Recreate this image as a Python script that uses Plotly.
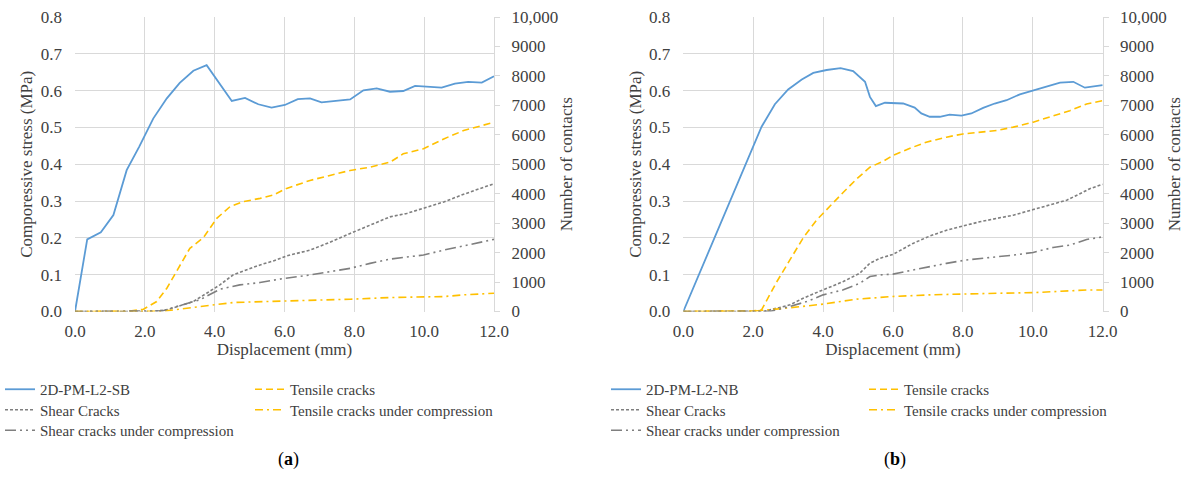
import plotly.graph_objects as go

# ---------------- data ----------------
# Panel (a) 2D-PM-L2-SB
disp_a_stress = [0, 0.35, 0.74, 1.10, 1.48, 1.84, 2.24, 2.63, 3.0, 3.39, 3.77, 4.15, 4.49, 4.87, 5.25, 5.63,
                 6.01, 6.38, 6.73, 7.06, 7.49, 7.88, 8.26, 8.64, 9.02, 9.40, 9.74, 10.12, 10.50, 10.88, 11.26, 11.65, 12.0]
stress_a = [0, 0.196, 0.215, 0.262, 0.384, 0.448, 0.524, 0.579, 0.621, 0.654, 0.669, 0.619, 0.572, 0.580, 0.563, 0.554,
            0.561, 0.577, 0.579, 0.568, 0.572, 0.576, 0.601, 0.606, 0.597, 0.599, 0.613, 0.610, 0.608, 0.619, 0.624, 0.622, 0.639]

disp_a_tens = [0, 1.5, 1.96, 2.34, 2.63, 3.0, 3.29, 3.68, 4.06, 4.44, 4.82, 5.3, 5.68, 6.06, 6.73, 7.3, 7.88,
               8.45, 9.02, 9.40, 9.98, 10.56, 11.13, 12.0]
tensile_a = [0, 0, 79, 339, 791, 1525, 2147, 2509, 3164, 3560, 3729, 3842, 3955, 4181, 4450, 4620, 4790,
             4900, 5070, 5355, 5525, 5860, 6145, 6425]

disp_a_shear = [0, 2.2, 2.63, 3.39, 3.77, 4.15, 4.53, 4.91, 5.3, 5.68, 6.06, 6.73, 7.3, 7.88, 8.45, 9.02, 9.5,
                9.98, 10.56, 11.13, 12.0]
shear_a = [0, 0, 56, 339, 621, 904, 1243, 1412, 1582, 1718, 1887, 2085, 2350, 2650, 2920, 3213, 3330,
           3495, 3720, 3980, 4340]

disp_a_shearc = [0, 2.5, 3.0, 3.58, 4.15, 4.72, 5.3, 5.97, 6.73, 7.88, 8.45, 9.02, 9.98, 10.56, 11.3, 12.0]
shear_comp_a = [0, 20, 200, 400, 757, 904, 983, 1120, 1240, 1466, 1635, 1780, 1917, 2085, 2270, 2450]

disp_a_tensc = [0, 2.5, 3.0, 3.77, 4.53, 5.49, 6.38, 7.3, 7.88, 9.02, 9.98, 10.56, 11.13, 12.0]
tensile_comp_a = [0, 10, 80, 192, 305, 339, 362, 395, 417, 475, 507, 507, 565, 620]

# Panel (b) 2D-PM-L2-NB
disp_b_stress = [0, 1.12, 2.24, 2.62, 3.0, 3.39, 3.72, 4.1, 4.5, 4.86, 5.2, 5.34, 5.51, 5.77, 6.0, 6.29, 6.62,
                 6.81, 7.05, 7.34, 7.62, 7.96, 8.24, 8.58, 8.91, 9.25, 9.63, 10.01, 10.39, 10.78, 11.16, 11.49, 12.0]
stress_b = [0, 0.251, 0.502, 0.563, 0.603, 0.630, 0.648, 0.656, 0.661, 0.653, 0.624, 0.583, 0.558, 0.567, 0.567, 0.565, 0.554,
            0.538, 0.529, 0.529, 0.535, 0.532, 0.538, 0.553, 0.565, 0.574, 0.590, 0.601, 0.612, 0.622, 0.624, 0.608, 0.615]

disp_b_tens = [0, 2.0, 2.24, 2.67, 3.05, 3.43, 3.81, 4.2, 4.58, 4.96, 5.34, 5.72, 6.0, 6.57, 6.95, 7.53, 8.0,
               8.96, 9.44, 10.01, 10.58, 11.06, 11.54, 12.0]
tensile_b = [0, 20, 56, 1000, 1750, 2500, 3100, 3600, 4050, 4500, 4900, 5100, 5300, 5580, 5750, 5920, 6030,
             6145, 6260, 6430, 6650, 6820, 7045, 7160]

disp_b_shear = [0, 2.3, 3.05, 3.43, 4.0, 4.58, 5.05, 5.34, 5.63, 6.0, 6.57, 7.05, 7.53, 8.0, 8.48, 8.96, 9.44,
                10.01, 10.58, 10.97, 11.35, 11.63, 12.0]
shear_b = [0, 0, 226, 452, 735, 1017, 1300, 1639, 1808, 1940, 2310, 2560, 2760, 2900, 3045, 3160, 3270,
           3460, 3660, 3780, 4000, 4170, 4320]

disp_b_shearc = [0, 2.5, 3.05, 3.53, 4.0, 4.58, 5.05, 5.34, 5.63, 6.0, 6.57, 7.15, 7.53, 8.1, 8.96, 9.44, 10.01,
                 10.58, 11.06, 11.54, 12.0]
shear_comp_b = [0, 10, 170, 339, 565, 735, 960, 1187, 1243, 1270, 1410, 1555, 1635, 1750, 1840, 1915, 2005,
                2175, 2255, 2445, 2535]

disp_b_tensc = [0, 2.0, 3.0, 4.0, 4.96, 5.63, 6.0, 7.05, 8.0, 8.96, 10.01, 10.97, 11.54, 12.0]
tensile_comp_b = [0, 10, 120, 250, 420, 475, 510, 565, 600, 620, 640, 700, 730, 730]

x_ticks = [0, 2, 4, 6, 8, 10, 12]
y_left_ticks = [0, 0.1, 0.2, 0.3, 0.4, 0.5, 0.6, 0.7, 0.8]
y_right_ticks = [0, 1000, 2000, 3000, 4000, 5000, 6000, 7000, 8000, 9000, 10000]
y_right_labels = ["0", "1000", "2000", "3000", "4000", "5000", "6000", "7000", "8000", "9000", "10,000"]

# ---------------- styles ----------------
W, H = 1191, 488
FONT = "Liberation Serif"
TXT = "#404040"
GRID = "#D9D9D9"
BLUE = "#5B9BD5"
YEL = "#FFC000"
GRAY = "#7F7F7F"

DASH_TENS = "7px,4px"
DASH_SHEAR = "3px,2px"
DASH_SHEARC = "11px,4px,2px,4px,2px,4px"
DASH_TENSC = "8px,4px,2px,4px"

# legend slots (left px of legend box, row index)
ROWS_Y = [390, 410.5, 431]
LEG_OFFSET = 17

fig = go.Figure()
legends = {}
_counter = [0]


def new_legend(xpx, row):
    _counter[0] += 1
    key = "legend" if _counter[0] == 1 else "legend%d" % _counter[0]
    legends[key] = dict(x=xpx / W, y=1 - (ROWS_Y[row] - LEG_OFFSET) / H, xanchor="left", yanchor="top",
                        orientation="v", font=dict(family=FONT, size=15, color=TXT),
                        bgcolor="rgba(0,0,0,0)", itemwidth=30)
    return key


def add_panel(xa, ya_l, ya_r, col1, col2, stress_name, data):
    (ds, s, dt, t, dsh, sh, dshc, shc, dtc, tc) = data
    fig.add_trace(go.Scatter(x=ds, y=s, mode="lines", name=stress_name, xaxis=xa, yaxis=ya_l,
                             line=dict(color=BLUE, width=1.8), legend=new_legend(col1, 0)))
    fig.add_trace(go.Scatter(x=dt, y=t, mode="lines", name="Tensile cracks", xaxis=xa, yaxis=ya_r,
                             line=dict(color=YEL, width=1.6, dash=DASH_TENS), legend=new_legend(col2, 0)))
    fig.add_trace(go.Scatter(x=dsh, y=sh, mode="lines", name="Shear Cracks", xaxis=xa, yaxis=ya_r,
                             line=dict(color=GRAY, width=1.6, dash=DASH_SHEAR), legend=new_legend(col1, 1)))
    fig.add_trace(go.Scatter(x=dtc, y=tc, mode="lines", name="Tensile cracks under compression", xaxis=xa, yaxis=ya_r,
                             line=dict(color=YEL, width=1.6, dash=DASH_TENSC), legend=new_legend(col2, 1)))
    fig.add_trace(go.Scatter(x=dshc, y=shc, mode="lines", name="Shear cracks under compression", xaxis=xa, yaxis=ya_r,
                             line=dict(color=GRAY, width=1.6, dash=DASH_SHEARC), legend=new_legend(col1, 2)))


add_panel("x", "y", "y2", 0, 250, "2D-PM-L2-SB",
          (disp_a_stress, stress_a, disp_a_tens, tensile_a, disp_a_shear, shear_a,
           disp_a_shearc, shear_comp_a, disp_a_tensc, tensile_comp_a))
add_panel("x2", "y3", "y4", 606, 864, "2D-PM-L2-NB",
          (disp_b_stress, stress_b, disp_b_tens, tensile_b, disp_b_shear, shear_b,
           disp_b_shearc, shear_comp_b, disp_b_tensc, tensile_comp_b))

ydom = [1 - 311.5 / H, 1 - 17 / H]
TICK_FONT = dict(family=FONT, size=17, color=TXT)
TITLE_FONT = dict(family=FONT, size=17, color=TXT)


def xaxis(dom, anchor):
    return dict(domain=dom, anchor=anchor, range=[0, 12], tickvals=x_ticks, tickformat=".1f",
                showgrid=True, gridcolor=GRID, gridwidth=1, zeroline=False, showline=False,
                ticks="", tickfont=dict(TICK_FONT), ticklabelstandoff=7, automargin=False,
                title=dict(text="Displacement (mm)", font=dict(TITLE_FONT), standoff=3))


def yleft(anchor):
    return dict(domain=ydom, anchor=anchor, range=[0, 0.8], tickvals=y_left_ticks, tickformat=".1f",
                showgrid=True, gridcolor=GRID, gridwidth=1, zeroline=False, showline=False,
                ticks="", tickfont=dict(TICK_FONT), ticklabelstandoff=12, automargin=False,
                title=dict(text="Comporessive stress (MPa)", font=dict(TITLE_FONT), standoff=3))


def yright(anchor, over):
    return dict(domain=ydom, anchor=anchor, overlaying=over, side="right", range=[0, 10000],
                tickvals=y_right_ticks, ticktext=y_right_labels, showgrid=False, zeroline=False,
                showline=True, linecolor=GRID, linewidth=1, ticks="outside", ticklen=5, tickcolor=GRID,
                tickfont=dict(TICK_FONT), ticklabelstandoff=8, automargin=False,
                title=dict(text="Number of contacts", font=dict(TITLE_FONT), standoff=2))


fig.update_layout(
    template="simple_white",
    width=W, height=H, margin=dict(l=0, r=0, t=0, b=0, autoexpand=False),
    font=dict(family=FONT, size=17, color=TXT),
    paper_bgcolor="white", plot_bgcolor="white",
    xaxis=xaxis([75 / W, 494 / W], "y"),
    yaxis=yleft("x"),
    yaxis2=yright("x", "y"),
    xaxis2=xaxis([683.3 / W, 1102.7 / W], "y3"),
    yaxis3=yleft("x2"),
    yaxis4=yright("x2", "y3"),
    showlegend=True,
    annotations=[
        dict(text="(<b>a</b>)", x=288 / W, y=1 - 459 / H, xref="paper", yref="paper", showarrow=False,
             xanchor="center", yanchor="middle", font=dict(family=FONT, size=18, color="#000000")),
        dict(text="(<b>b</b>)", x=895 / W, y=1 - 459 / H, xref="paper", yref="paper", showarrow=False,
             xanchor="center", yanchor="middle", font=dict(family=FONT, size=18, color="#000000")),
    ],
)
fig.update_layout(**legends)

fig.write_html("out.html")
